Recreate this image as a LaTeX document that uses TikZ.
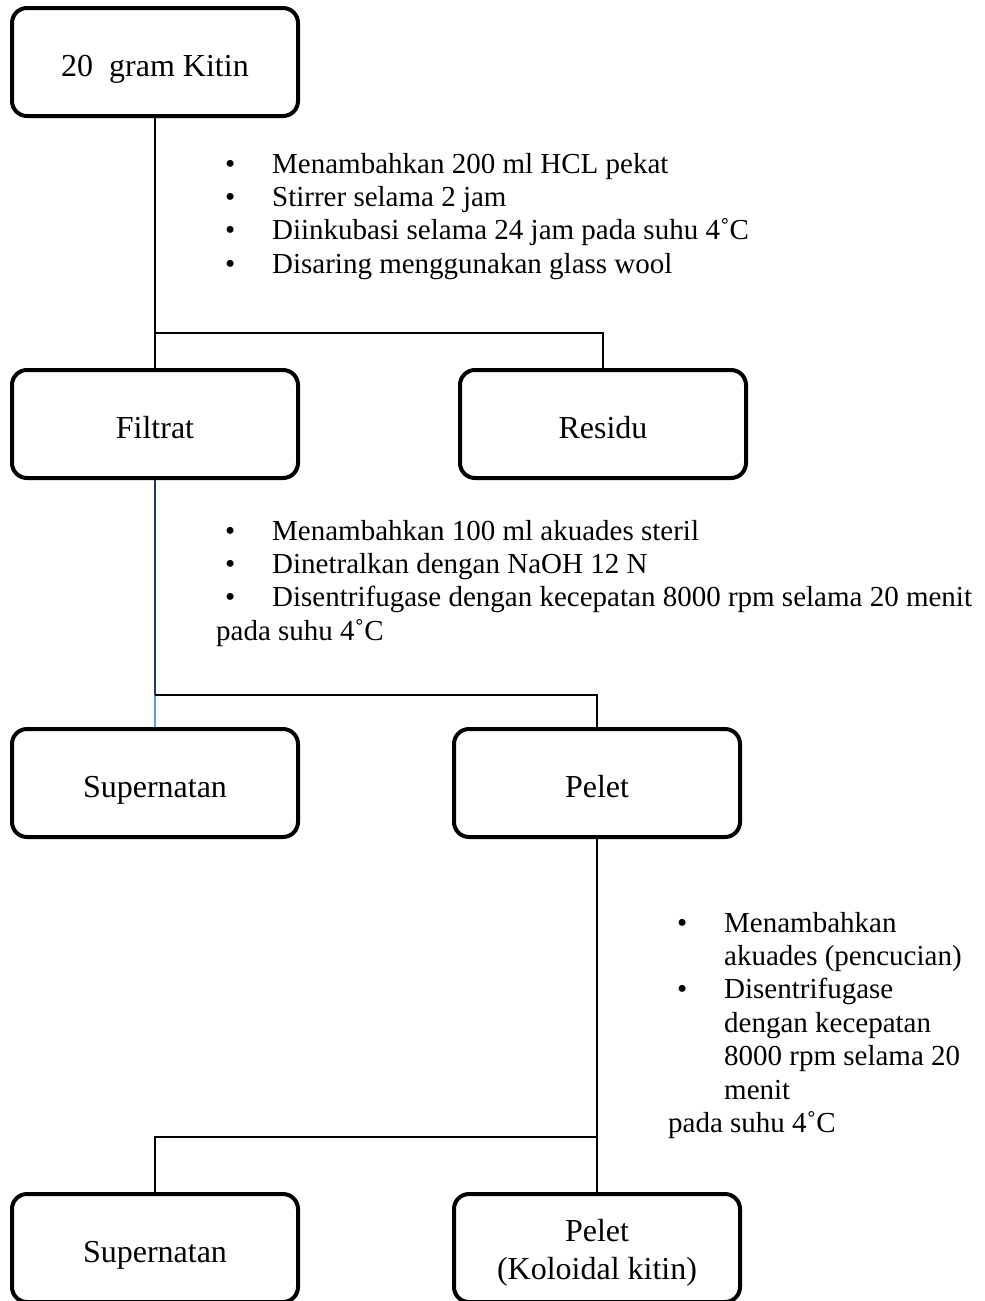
\documentclass[tikz,border=0pt]{standalone}
\usepackage{fontspec}
\setmainfont{Liberation Serif}
\usepackage{tikz}
\definecolor{LineNavy}{RGB}{31,56,100}
\definecolor{LineBlue}{RGB}{91,155,213}
\newcommand{\bul}{\makebox[56pt][l]{\hspace{9pt}\textbullet}}
\newcommand{\ind}{\hspace*{56pt}}

\begin{document}
\begin{tikzpicture}[x=1pt,y=-1pt,
        box/.style={draw=black,line width=4pt,rounded corners=15pt,
                    minimum width=286pt,minimum height=108pt,inner sep=0pt,
                    font=\fontsize{32}{38}\selectfont,align=center},
        onebox/.style={box,text height=28pt,text depth=0pt},
        note/.style={anchor=north west,inner sep=0pt,align=left,
                     font=\fontsize{29}{33.4}\selectfont},
        link/.style={line width=1.3pt,draw=black}]
        \path[use as bounding box,clip] (0,0) rectangle (985,1301);
        % boxes
        \node[onebox] (kitin) at (155,62) {20\ \ gram Kitin};
        \node[onebox] (filtrat) at (155,424) {Filtrat};
        \node[onebox] (residu) at (603,424) {Residu};
        \node[onebox] (super) at (155,783) {Supernatan};
        \node[onebox] (pelet) at (597,783) {Pelet};
        \node[onebox] (super2) at (155,1248) {Supernatan};
        \node[box] (pelet2) at (597,1248) {\rule{0pt}{32pt}Pelet\\(Koloidal kitin)};
        % steps
        \node[note] (step1) at (216,149.5) {\strut\bul Menambahkan 200 ml HCL pekat\\
              \bul Stirrer selama 2 jam\\
              \bul Diinkubasi selama 24 jam pada suhu 4˚C\\
              \bul Disaring menggunakan glass wool};
        \node[note] (step2) at (216,516.6) {\strut\bul Menambahkan 100 ml akuades steril\\
              \bul Dinetralkan dengan NaOH 12 N\\
              \bul Disentrifugase dengan kecepatan 8000 rpm selama 20 menit\\
              pada suhu 4˚C};
        \node[note] (step3) at (668,908.6) {\strut\bul Menambahkan\\
              \ind akuades (pencucian)\\
              \bul Disentrifugase\\
              \ind dengan kecepatan\\
              \ind 8000 rpm selama 20\\
              \ind menit\\
              pada suhu 4˚C};
        % connectors
        \coordinate (j1) at (155,333);
        \coordinate (r1) at (603,333);
        \coordinate (j2) at (155,695);
        \coordinate (p2) at (597,695);
        \coordinate (j3) at (597,1137);
        \coordinate (s3) at (155,1137);
        \draw[link] (kitin) -- (filtrat);
        \draw[link] (j1) -- (r1) -- (residu);
        \draw[link,draw=LineNavy] (filtrat) -- (j2);
        \draw[link,draw=LineBlue] (j2) -- (super);
        \draw[link] (j2) -- (p2) -- (pelet);
        \draw[link] (pelet) -- (pelet2);
        \draw[link] (j3) -- (s3) -- (super2);
      \end{tikzpicture}
\end{document}
